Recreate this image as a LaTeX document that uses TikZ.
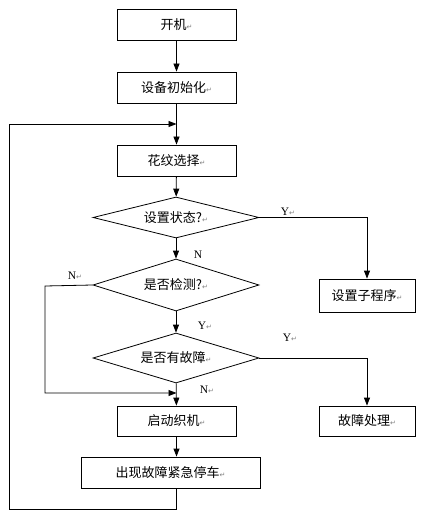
\documentclass[tikz,border=0pt]{standalone}
\usepackage{fontspec}
\newfontfamily\cjk{Noto Sans CJK SC}
\newfontfamily\symf{DejaVu Sans}
\setmainfont{Liberation Serif}
\usetikzlibrary{shapes.geometric,arrows.meta}
\newcommand\pmark{{\symf\fontsize{7}{8}\selectfont\color{gray}↵}}
\begin{document}
\begin{tikzpicture}[x=1pt,y=-1pt,
    box/.style={draw,inner sep=0pt,minimum width=119pt,minimum height=31pt,
      font=\cjk\fontsize{13}{15}\selectfont},
    test/.style={draw,diamond,aspect=3.3,inner sep=0pt,minimum width=166pt,
      font=\cjk\fontsize{13}{15}\selectfont},
    lbl/.style={inner sep=1pt,font=\fontsize{11.5}{13}\selectfont},
    every path/.style={line width=0.8pt},
    >={Triangle[length=8pt,width=6pt]}]
  \useasboundingbox (0,0) rectangle (422,518);
  % boxes
  \node[box] (power) at (176.5,25) {开机\pmark};
  \node[box] (init) at (176.5,87.5) {设备初始化\pmark};
  \node[box] (pattern) at (176.5,160.5) {花纹选择\pmark};
  \node[test,minimum height=41pt] (status) at (176,217.5) {设置状态?\pmark};
  \node[test,minimum height=52pt] (check) at (176,285) {是否检测?\pmark};
  \node[test,minimum height=50pt] (fault) at (176,358) {是否有故障\pmark};
  \node[box,minimum width=96pt,minimum height=33pt] (setsub) at (367,295.5) {设置子程序\pmark};
  \node[box,minimum width=96pt,minimum height=30pt] (handle) at (367,421) {故障处理\pmark};
  \node[box,minimum height=30pt] (start) at (176.5,421) {启动织机\pmark};
  \node[box,minimum width=179pt] (stop) at (170.5,472.5) {出现故障紧急停车\pmark};
  % joints
  \coordinate (loop) at (176.5,124);
  \coordinate (join) at (176.5,393);
  \coordinate (left) at (9,509);
  \coordinate (nleft) at (45,286);
  % main flow
  \draw[->] (power) -- (init);
  \draw[->] (init) -- (pattern);
  \draw[->] (pattern) -- (status);
  \draw[->] (status) -- (check);
  \draw[->] (check) -- (fault);
  \draw[->] (fault) -- (start);
  \draw[->] (start.south) -- (start.south |- stop.north);
  % branches
  \draw[->] (status.east) -| (setsub.north);
  \draw[->] (fault.east) -| (handle.north);
  \draw[->] (check.west) -- (nleft) |- (join);
  \draw[->] (start.south |- stop.south) |- (left) |- (loop);
  % labels
  \node[lbl] (ys) at (288,212) {Y\pmark};
  \node[lbl] (ns) at (198,255) {N};
  \node[lbl] (nc) at (75,276) {N\pmark};
  \node[lbl] (yc) at (205,326) {Y\pmark};
  \node[lbl] (yf) at (290,338) {Y\pmark};
  \node[lbl] (nf) at (207,390) {N\pmark};
\end{tikzpicture}
\end{document}
